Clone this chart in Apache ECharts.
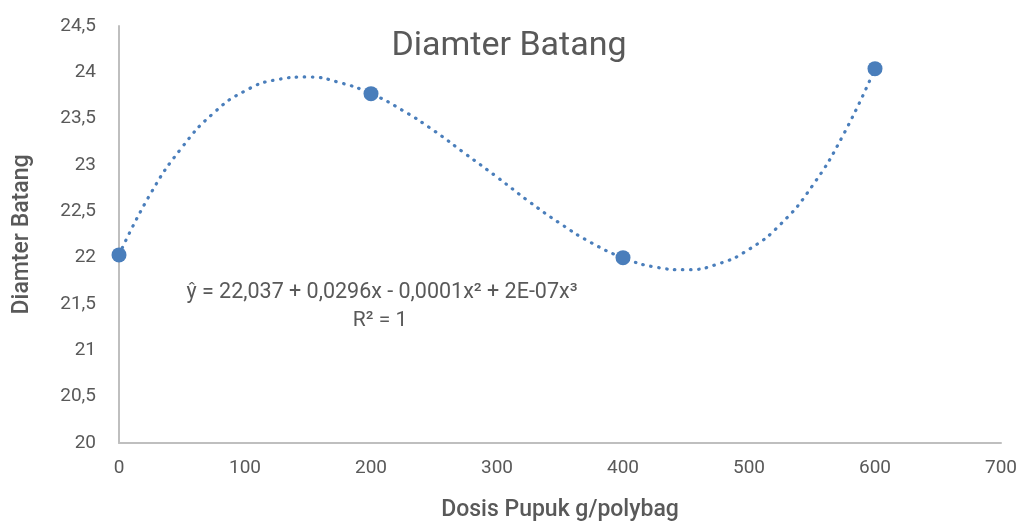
<!DOCTYPE html>
<html>
<head>
	<meta charset="UTF-8">
	<title>Diamter Batang</title>
	<script src="https://cdn.jsdelivr.net/npm/echarts@6/dist/echarts.min.js"></script>
	<style>
		html, body { margin: 0; padding: 0; background: #fff; }
		#container { width: 1022px; height: 527px; }
	</style>
</head>
<body>
	<div id="container"></div>
	<script>
		// data points (dosis, diameter)
		var dosis = [0, 200, 400, 600];
		var diameter = [22.03, 23.77, 22.00, 24.04];

		// trendline
		var trendX = [0, 25, 50, 75, 100, 125, 150, 175, 200, 225, 250, 275, 300,
			325, 350, 375, 400, 425, 450, 475, 500, 525, 550, 575, 600];
		var trendY = [22.03, 22.69, 23.19, 23.56, 23.80, 23.92, 23.95, 23.89, 23.77,
			23.59, 23.37, 23.12, 22.87, 22.61, 22.37, 22.16, 22.00, 21.90, 21.87,
			21.93, 22.09, 22.36, 22.77, 23.33, 24.04];

		var xTicks = [0, 700, 100];
		var yTicks = [20, 24.5, 0.5];

		var eqText = 'ŷ = 22,037 + 0,0296x - 0,0001x² + 2E-07x³';
		var r2Text = 'R² = 1';

		var font = 'Roboto';
		var txtColor = '#595959';
		var blue = '#4a7ebb';

		var points = dosis.map(function (d, i) { return [d, diameter[i]]; });
		var trend = trendX.map(function (d, i) { return [d, trendY[i]]; });

		var dom = document.getElementById("container");
		var myChart = echarts.init(dom);
		var option = {
			animation: false,
			title: {
				text: 'Diamter Batang',
				left: 504,
				textAlign: 'center',
				top: 24,
				textStyle: { fontFamily: font, fontSize: 34, fontWeight: 'normal', color: txtColor }
			},
			grid: { left: 119, right: 21, top: 26, bottom: 82 },
			xAxis: {
				type: 'value',
				min: xTicks[0], max: xTicks[1], interval: xTicks[2],
				name: 'Dosis Pupuk g/polybag',
				nameLocation: 'middle',
				nameGap: 56,
				nameTextStyle: { fontFamily: font, fontSize: 23, color: txtColor, fontWeight: 500 },
				axisLine: { lineStyle: { color: '#bfbfbf', width: 2 } },
				axisTick: { show: false },
				splitLine: { show: false },
				axisLabel: { fontFamily: font, fontSize: 19, color: txtColor, margin: 16 }
			},
			yAxis: {
				type: 'value',
				min: yTicks[0], max: yTicks[1], interval: yTicks[2],
				name: 'Diamter Batang',
				nameLocation: 'middle',
				nameGap: 85,
				nameTextStyle: { fontFamily: font, fontSize: 23, color: txtColor, fontWeight: 500 },
				axisLine: { show: true, lineStyle: { color: '#bfbfbf', width: 2 } },
				axisTick: { show: false },
				splitLine: { show: false },
				axisLabel: {
					fontFamily: font, fontSize: 19, color: txtColor, margin: 23,
					formatter: function (v) { return String(v).replace('.', ','); }
				}
			},
			graphic: [
				{ type: 'text', x: 382, y: 293, style: { text: eqText, fontFamily: font, fontSize: 21.5, fill: txtColor, align: 'center', verticalAlign: 'middle' } },
				{ type: 'text', x: 380, y: 321, style: { text: r2Text, fontFamily: font, fontSize: 21, fill: txtColor, align: 'center', verticalAlign: 'middle' } }
			],
			series: [
				{
					type: 'line',
					data: trend,
					smooth: true,
					symbol: 'none',
					lineStyle: { color: blue, width: 3.2, type: [0.5, 7.5], cap: 'round' },
					z: 2
				},
				{
					type: 'scatter',
					data: points,
					symbolSize: 15,
					itemStyle: { color: blue, opacity: 1 },
					z: 3
				}
			]
		};
		myChart.setOption(option);
	</script>
</body>
</html>
